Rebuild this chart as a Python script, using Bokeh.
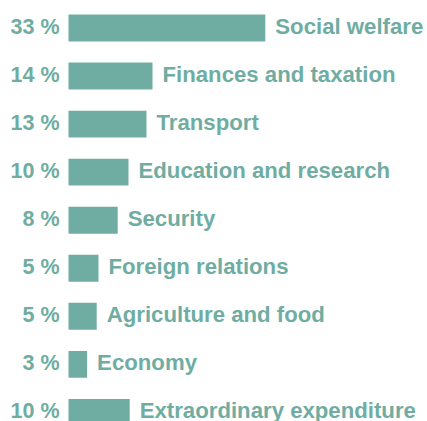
from bokeh.plotting import figure
from bokeh.models import ColumnDataSource, Range1d
from bokeh.core.properties import value
from bokeh.embed import file_html
from bokeh.resources import INLINE

categories = ["Social welfare", "Finances and taxation", "Transport",
              "Education and research", "Security", "Foreign relations",
              "Agriculture and food", "Economy", "Extraordinary expenditure"]
shares = [32.8, 14.0, 13.0, 10.0, 8.2, 5.0, 4.7, 3.1, 10.2]
share_labels = ["33 %", "14 %", "13 %", "10 %", "8 %", "5 %", "5 %", "3 %", "10 %"]

COLOR = "#6fada2"
FONT = "Liberation Sans"

rows = list(range(len(categories)))
src = ColumnDataSource(dict(row=rows, share=shares, cat=categories, lab=share_labels))

W, H = 427, 421
px_per_unit = 6.0
x0 = -68 / px_per_unit
row_px = 48.05
first_center = 27.5
top = -first_center / row_px
bottom = (H - first_center) / row_px

p = figure(width=W, height=H, output_backend="svg", toolbar_location=None,
           x_range=Range1d(x0, x0 + W / px_per_unit),
           y_range=Range1d(start=bottom, end=top),
           min_border=0, min_border_left=0, min_border_right=0,
           min_border_top=0, min_border_bottom=0)
p.axis.visible = False
p.grid.visible = False
p.outline_line_color = None
p.background_fill_color = "white"
p.border_fill_color = "white"

p.hbar(y="row", left=0, right="share", height=0.56, source=src,
       fill_color=COLOR, line_color=None)

p.text(x=0, y="row", text="lab", source=src, x_offset=-9, y_offset=-1.5,
       text_align="right", text_baseline="middle",
       text_font=value(FONT), text_font_style="bold",
       text_font_size="21.5px", text_color=COLOR)

p.text(x="share", y="row", text="cat", source=src, x_offset=10, y_offset=-1.5,
       text_align="left", text_baseline="middle",
       text_font=value(FONT), text_font_style="bold",
       text_font_size="22.2px", text_color=COLOR)

open("out.html", "w").write(file_html(p, INLINE))
